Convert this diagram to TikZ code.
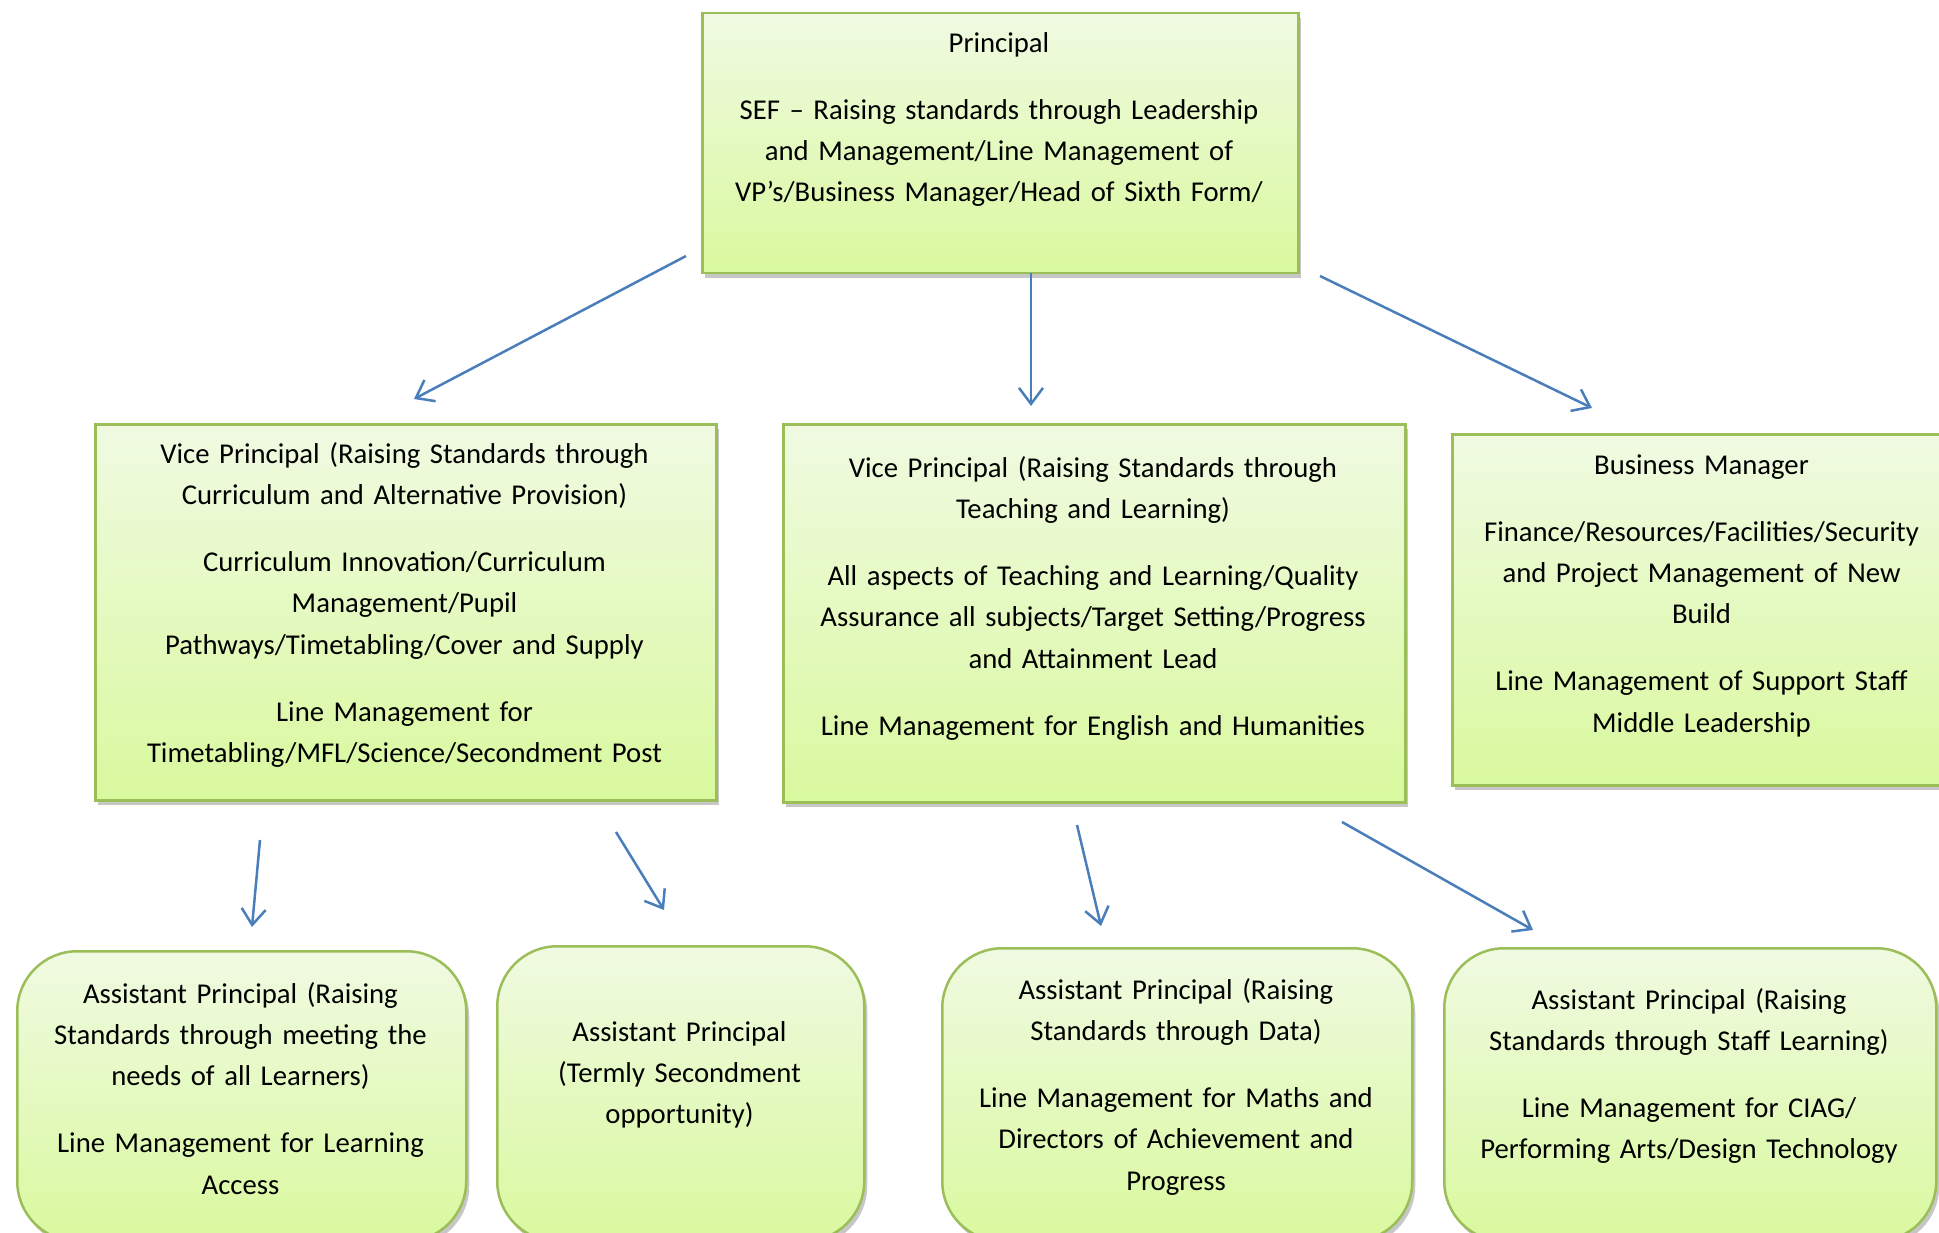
\documentclass[tikz,border=0pt]{standalone}
\usepackage{fontspec}
\setmainfont{Carlito}
\usetikzlibrary{arrows.meta,shadows}
\definecolor{boxtop}{RGB}{240,250,226}
\definecolor{boxbot}{RGB}{217,249,158}
\definecolor{bordergreen}{RGB}{155,190,89}
\definecolor{arrowblue}{RGB}{74,126,187}
\newcommand\pgap{\\[25.6pt]}
\tikzset{
  box/.style={draw=bordergreen, line width=2.5pt, top color=boxtop, bottom color=boxbot,
    inner sep=0pt, anchor=north west,
    drop shadow={shadow xshift=3pt, shadow yshift=-5pt, fill=black, opacity=0.22}},
  rbox/.style={box, rounded corners=60pt},
  txt/.style={font=\fontsize{28.7}{41.4}\selectfont, align=center, text width=760pt,
    inner sep=0pt, anchor=north, yshift=-3pt, execute at begin node=\strut},
  conn/.style={draw=arrowblue, line width=2.5pt,
    -{Straight Barb[length=16pt,width=24pt,line width=2.5pt]}}
}
\begin{document}
\begin{tikzpicture}[x=1pt,y=-1pt]
\useasboundingbox (0,0) rectangle (1939,1233);
% boxes
\node[box, minimum width=596pt, minimum height=260pt] (P) at (701,12) {};
\node[box, minimum width=621pt, minimum height=376pt] (VPa) at (94,423) {};
\node[box, minimum width=622pt, minimum height=378pt] (VPb) at (782,423) {};
\node[box, minimum width=501pt, minimum height=351pt] (BM) at (1451,433) {};
\node[rbox, minimum width=449pt, minimum height=290pt] (APa) at (16,950) {};
\node[rbox, minimum width=367pt, minimum height=295pt] (APb) at (496,945) {};
\node[rbox, minimum width=470pt, minimum height=293pt] (APc) at (941,947) {};
\node[rbox, minimum width=492pt, minimum height=293pt] (APd) at (1443,947) {};
% texts
\node[txt] (Pt) at (999,20) {Principal\pgap SEF – Raising standards through Leadership\\ and Management/Line Management of\\ VP’s/Business Manager/Head of Sixth Form/};
\node[txt] (VPat) at (404.5,431) {Vice Principal (Raising Standards through\\ Curriculum and Alternative Provision)\pgap Curriculum Innovation/Curriculum\\ Management/Pupil\\ Pathways/Timetabling/Cover and Supply\pgap Line Management for\\ Timetabling/MFL/Science/Secondment Post};
\node[txt] (VPbt) at (1093,445) {Vice Principal (Raising Standards through\\ Teaching and Learning)\pgap All aspects of Teaching and Learning/Quality\\ Assurance all subjects/Target Setting/Progress\\ and Attainment Lead\pgap Line Management for English and Humanities};
\node[txt] (BMt) at (1701.5,442) {Business Manager\pgap Finance/Resources/Facilities/Security\\ and Project Management of New\\ Build\pgap Line Management of Support Staff\\ Middle Leadership};
\node[txt] (APat) at (240.5,971) {Assistant Principal (Raising\\ Standards through meeting the\\ needs of all Learners)\pgap Line Management for Learning\\ Access};
\node[txt] (APbt) at (679.5,1009) {Assistant Principal\\ (Termly Secondment\\ opportunity)};
\node[txt] (APct) at (1176,967) {Assistant Principal (Raising\\ Standards through Data)\pgap Line Management for Maths and\\ Directors of Achievement and\\ Progress};
\node[txt] (APdt) at (1689,977) {Assistant Principal (Raising\\ Standards through Staff Learning)\pgap Line Management for CIAG/\\ Performing Arts/Design Technology};
% connector end points
\coordinate (a1s) at (686,256);  \coordinate (a1e) at (414,399);
\coordinate (a2s) at (1031,273); \coordinate (a2e) at (1031,406);
\coordinate (a3s) at (1320,276); \coordinate (a3e) at (1592,408);
\coordinate (a4s) at (260,840);  \coordinate (a4e) at (252,927);
\coordinate (a5s) at (616,832);  \coordinate (a5e) at (664,910);
\coordinate (a6s) at (1077,825); \coordinate (a6e) at (1101,926);
\coordinate (a7s) at (1342,822); \coordinate (a7e) at (1533,930);
\draw[conn] (a1s) -- (a1e);
\draw[conn] (a2s) -- (a2e);
\draw[conn] (a3s) -- (a3e);
\draw[conn] (a4s) -- (a4e);
\draw[conn] (a5s) -- (a5e);
\draw[conn] (a6s) -- (a6e);
\draw[conn] (a7s) -- (a7e);
\end{tikzpicture}
\end{document}
